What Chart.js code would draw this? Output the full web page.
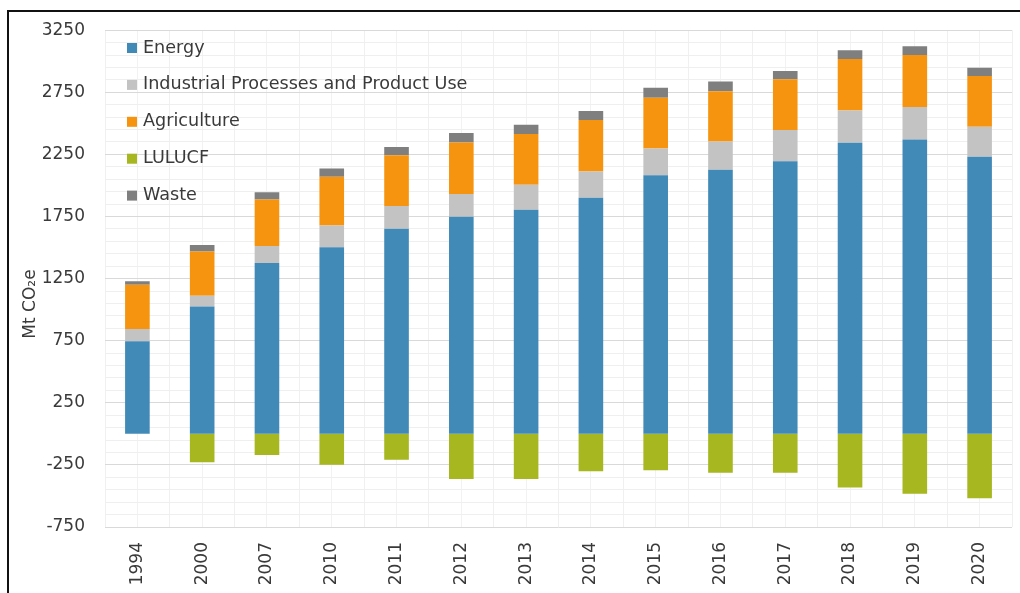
<!DOCTYPE html>
<html>
<head>
<meta charset="utf-8">
<script src="https://cdn.jsdelivr.net/npm/chart.js@4/dist/chart.umd.min.js"></script>
<style>
    html, body { margin: 0; padding: 0; background: #ffffff; }
    #wrap { position: relative; width: 1020px; height: 593px; overflow: hidden; }
    #frame {
        position: absolute; left: 7px; top: 10px; width: 1100px; height: 700px;
        border-top: 2px solid #111; border-left: 2px solid #111;
        pointer-events: none;
    }
</style>
</head>
<body>
<div id="wrap">
    <canvas id="ghg-chart" width="1020" height="593"></canvas>
    <div id="frame"></div>
</div>
<script>
// 年（カテゴリ）
const years = ['1994', '2000', '2007', '2010', '2011', '2012', '2013', '2014', '2015', '2016', '2017', '2018', '2019', '2020'];

// 部門別排出量 (Mt CO2e)
const energy      = [745, 1026, 1376, 1503, 1652, 1747, 1805, 1901, 2083, 2126, 2195, 2343, 2370, 2232];
const industrial  = [100, 85, 137, 175, 183, 185, 201, 212, 215, 228, 252, 260, 262, 241];
const agriculture = [356, 358, 374, 392, 408, 414, 409, 413, 408, 405, 408, 416, 419, 408];
const lulucf      = [null, -228, -170, -249, -209, -363, -363, -302, -294, -313, -313, -432, -483, -519];
const waste       = [28, 52, 59, 67, 66, 77, 74, 74, 80, 77, 66, 69, 69, 67];

const seriesNames = ['Energy', 'Industrial Processes and Product Use', 'Agriculture', 'LULUCF', 'Waste'];
const seriesColors = ['#418ab8', '#c3c3c3', '#f7940f', '#a6b71f', '#7f7f7f'];

// 軸の設定
const yMin = -750;
const yMax = 3250;
const yStep = 100;      // 補助目盛り
const yLabelStep = 500; // ラベル付き目盛り
const yTitle = 'Mt CO\u2082e';

const FONT = 'DejaVu Sans';

// 凡例をプロット内の左上に描く
const insideLegend = {
    id: 'insideLegend',
    afterDatasetsDraw(chart) {
        const ctx = chart.ctx;
        ctx.save();
        ctx.font = '17.6px "' + FONT + '"';
        ctx.textBaseline = 'middle';
        ctx.textAlign = 'left';
        chart.data.datasets.forEach((ds, i) => {
            const y = 48 + i * 36.9;
            ctx.fillStyle = ds.backgroundColor;
            ctx.fillRect(127, y - 5, 10, 10);
            ctx.fillStyle = '#3a3a3a';
            ctx.fillText(ds.label, 143, y);
        });
        ctx.restore();
    }
};

// 縦軸タイトル
const axisTitle = {
    id: 'axisTitle',
    afterDraw(chart) {
        const ctx = chart.ctx;
        ctx.save();
        ctx.translate(31, 304);
        ctx.rotate(-Math.PI / 2);
        ctx.font = '17px "' + FONT + '"';
        ctx.fillStyle = '#3a3a3a';
        ctx.textAlign = 'center';
        ctx.textBaseline = 'middle';
        ctx.fillText(yTitle, 0, 0);
        ctx.restore();
    }
};

function buildDatasets() {
    const values = [energy, industrial, agriculture, lulucf, waste];
    return values.map((data, i) => ({
        label: seriesNames[i],
        data: data,
        backgroundColor: seriesColors[i],
        borderWidth: 0,
        barPercentage: 0.38,
        categoryPercentage: 1.0
    }));
}

function initializeChart() {
    const ctx = document.getElementById('ghg-chart').getContext('2d');

    new Chart(ctx, {
        type: 'bar',
        data: {
            labels: years,
            datasets: buildDatasets()
        },
        options: {
            responsive: false,
            animation: false,
            layout: { padding: { left: 0, top: 24, right: 8, bottom: 0 } },
            plugins: {
                legend: { display: false },
                tooltip: { enabled: false }
            },
            scales: {
                x: {
                    stacked: true,
                    grid: { color: '#f0f0f0', drawTicks: false },
                    border: { display: false },
                    ticks: {
                        color: '#3a3a3a',
                        font: { family: FONT, size: 17 },
                        minRotation: 90,
                        maxRotation: 90,
                        padding: 15,
                        autoSkip: false
                    },
                    afterFit(scale) { scale.height = 66; }
                },
                xMid: {
                    type: 'category',
                    position: 'top',
                    offset: true,
                    grid: { color: '#f2f2f2', drawTicks: false, offset: false },
                    border: { display: false },
                    ticks: { display: false },
                    afterFit(scale) { scale.height = 0; }
                },
                y: {
                    stacked: true,
                    min: yMin,
                    max: yMax,
                    grid: {
                        drawTicks: false,
                        color: function(c) {
                            const v = c.tick.value;
                            if (v === 0) return '#cfcfcf';
                            return ((v - yMin) % yLabelStep === 0) ? '#d9d9d9' : '#efefef';
                        }
                    },
                    border: { display: false },
                    ticks: {
                        stepSize: yStep,
                        autoSkip: false,
                        padding: 20,
                        color: '#3a3a3a',
                        font: { family: FONT, size: 17 },
                        callback: function(value) {
                            return ((value - yMin) % yLabelStep === 0) ? value : '';
                        }
                    },
                    afterFit(scale) { scale.width = 105; }
                }
            }
        },
        plugins: [insideLegend, axisTitle]
    });
}

document.addEventListener('DOMContentLoaded', initializeChart);
</script>
</body>
</html>
